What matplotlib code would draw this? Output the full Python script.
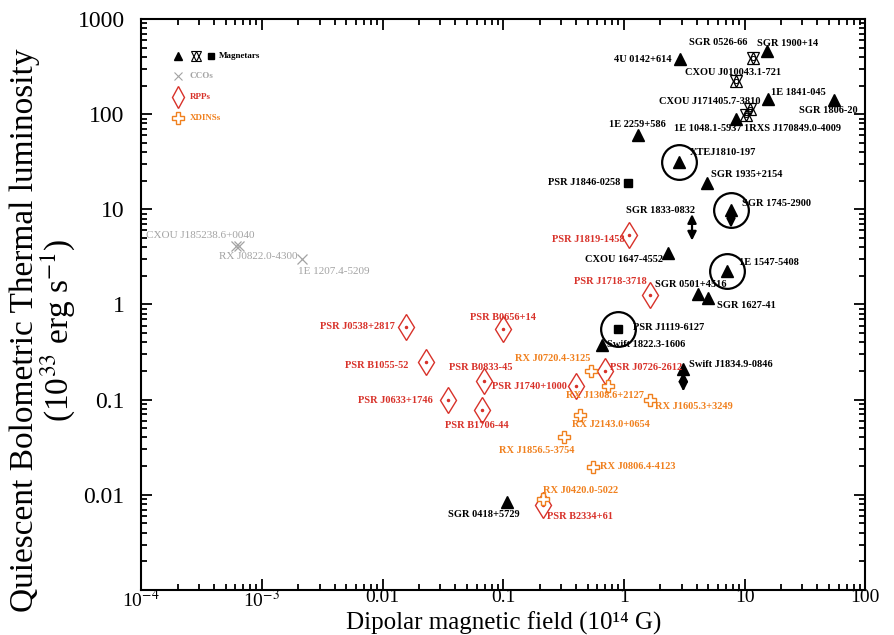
import matplotlib
matplotlib.use('Agg')
import matplotlib.pyplot as plt
from matplotlib.ticker import FixedLocator, LogLocator, NullFormatter

plt.rcParams['font.family'] = ['Liberation Serif', 'DejaVu Serif']
plt.rcParams['mathtext.fontset'] = 'stix'

# Magnetars: B in 1e14 G, thermal luminosity in 1e33 erg/s
mag_tri_names = ['4U 0142+614', 'SGR 1900+14', '1E 1841-045', 'SGR 1806-20', '1E 1048.1-5937',
                 '1E 2259+586', 'XTEJ1810-197', 'SGR 1935+2154', 'SGR 1745-2900', 'CXOU 1647-4552',
                 '1E 1547-5408', 'SGR 0501+4516', 'SGR 1627-41', 'Swift 1822.3-1606',
                 'Swift J1834.9-0846', 'SGR 0418+5729']
mag_tri_B = [2.9, 15.3, 15.6, 55, 8.5, 1.31, 2.86, 4.9, 7.7, 2.3, 7.1, 4.1, 5.0, 0.66, 3.1, 0.107]
mag_tri_L = [380, 460, 144, 142, 89, 61, 31.5, 19, 9.9, 3.5, 2.25, 1.29, 1.17, 0.377, 0.21, 0.0083]

mag_star_names = ['SGR 0526-66', 'CXOU J010043.1-721', 'CXOU J171405.7-3810', '1RXS J170849.0-4009']
mag_star_B = [11.7, 8.5, 11.1, 10.2]
mag_star_L = [390, 223, 113, 98]

mag_sq_names = ['PSR J1846-0258', 'PSR J1119-6127']
mag_sq_B = [1.08, 0.89]
mag_sq_L = [19, 0.555]

# sources drawn with a ring around them
ringed = ['XTEJ1810-197', 'SGR 1745-2900', '1E 1547-5408', 'PSR J1119-6127']

# vertical arrows: (B, from L, to L)
arrow_names = ['SGR 1833-0832', 'SGR 1745-2900', 'Swift J1834.9-0846']
arrow_B = [3.66, 7.7, 3.1]
arrow_hi = [8.9, 9.9, 0.195]
arrow_lo = [4.7, 6.4, 0.122]
arrow_both = [True, False, True]

cco_names = ['CXOU J185238.6+0040', 'RX J0822.0-4300', '1E 1207.4-5209']
cco_B = [6.1e-4, 6.5e-4, 2.15e-3]
cco_L = [4.1, 4.1, 3.0]

rpp_names = ['PSR J1819-1458', 'PSR J1718-3718', 'PSR J0538+2817', 'PSR B0656+14', 'PSR B1055-52',
             'PSR B0833-45', 'PSR J1740+1000', 'PSR J0633+1746', 'PSR B1706-44', 'PSR J0726-2612',
             'PSR B2334+61']
rpp_B = [1.1, 1.64, 0.0156, 0.099, 0.0228, 0.0696, 0.398, 0.0346, 0.066, 0.70, 0.212]
rpp_L = [5.4, 1.26, 0.58, 0.55, 0.248, 0.158, 0.139, 0.0995, 0.078, 0.2, 0.00785]

xdins_names = ['RX J0720.4-3125', 'RX J1308.6+2127', 'RX J1605.3+3249', 'RX J2143.0+0654',
               'RX J1856.5-3754', 'RX J0806.4-4123', 'RX J0420.0-5022']
xdins_B = [0.533, 0.74, 1.64, 0.43, 0.318, 0.55, 0.214]
xdins_L = [0.2, 0.14, 0.1, 0.069, 0.040, 0.0198, 0.009]

x_ticks = [1e-4, 1e-3, 1e-2, 1e-1, 1, 10, 100]
x_ticklabels = ['10$^{-4}$', '10$^{-3}$', '0.01', '0.1', '1', '10', '100']
y_ticks = [1e-2, 1e-1, 1, 10, 100, 1000]
y_ticklabels = ['0.01', '0.1', '1', '10', '100', '1000']

# label placement: offset in pixels (dx, dy up) from the marker and alignment
label_pos = {
    '4U 0142+614': (-8, 0, 'right'), 'SGR 1900+14': (-10, 8, 'left'),
    'SGR 0526-66': (-6, 15, 'right'), 'CXOU J010043.1-721': (-3, 9, 'center'),
    '1E 1841-045': (3, 7, 'left'), 'SGR 1806-20': (-6, -11, 'center'),
    'CXOU J171405.7-3810': (10, 8, 'right'), '1RXS J170849.0-4009': (-2, -13, 'left'),
    '1E 1048.1-5937': (5, -9, 'right'), '1E 2259+586': (-1, 10, 'center'),
    'XTEJ1810-197': (11, 9, 'left'), 'PSR J1846-0258': (-8, 0, 'right'),
    'SGR 1935+2154': (4, 8, 'left'), 'SGR 1745-2900': (11, 6, 'left'),
    'SGR 1833-0832': (3, 4, 'right'), 'CXOU 1647-4552': (-5, -7, 'right'),
    '1E 1547-5408': (12, 8, 'left'), 'SGR 0501+4516': (-7, 9, 'center'),
    'SGR 1627-41': (9, -8, 'left'), 'PSR J1119-6127': (15, 1, 'left'),
    'Swift 1822.3-1606': (5, 0, 'left'), 'Swift J1834.9-0846': (6, 4, 'left'),
    'SGR 0418+5729': (-23, -12, 'center'),
    'PSR J1819-1458': (-4, -5, 'right'), 'PSR J1718-3718': (-3, 13, 'right'),
    'PSR J0538+2817': (-11, 0, 'right'), 'PSR B0656+14': (0, 12, 'center'),
    'PSR B1055-52': (-17, -3, 'right'), 'PSR B0833-45': (-4, 13, 'center'),
    'PSR J1740+1000': (-9, 0, 'right'), 'PSR J0633+1746': (-15, -1, 'right'),
    'PSR B1706-44': (-5, -16, 'center'), 'PSR J0726-2612': (5, 3, 'left'),
    'PSR B2334+61': (4, -12, 'left'),
    'RX J0720.4-3125': (-1, 12, 'right'), 'RX J1308.6+2127': (-3, -10, 'center'),
    'RX J1605.3+3249': (5, -7, 'left'), 'RX J2143.0+0654': (-8, -10, 'left'),
    'RX J1856.5-3754': (-27, -13, 'center'), 'RX J0806.4-4123': (7, 0, 'left'),
    'RX J0420.0-5022': (0, 9, 'left'),
    'CXOU J185238.6+0040': (18, 11, 'right'), 'RX J0822.0-4300': (58, -10, 'right'),
    '1E 1207.4-5209': (-4, -12, 'left'),
}

C_MAG = 'black'
C_CCO = '#a3a3a3'
C_RPP = '#d8322a'
C_XDI = '#f0801e'

fig = plt.figure(figsize=(8.94, 6.35), dpi=100)
ax = fig.add_axes([0.158, 0.071, 0.810, 0.899])
ax.set_xscale('log')
ax.set_yscale('log')
ax.set_xlim(1e-4, 100)
ax.set_ylim(1e-3, 1000)

# rings behind the magnetar symbols
all_B = dict(zip(mag_tri_names + mag_sq_names, mag_tri_B + mag_sq_B))
all_L = dict(zip(mag_tri_names + mag_sq_names, mag_tri_L + mag_sq_L))
for n in ringed:
    ax.plot(all_B[n], all_L[n], 'o', ms=25, mfc='none', mec='black', mew=1.6)

ax.plot(mag_tri_B, mag_tri_L, '^', ms=8, color=C_MAG, ls='none')
ax.plot(mag_star_B, mag_star_L, '^', ms=9, mfc='none', mec=C_MAG, mew=0.9, ls='none')
ax.plot(mag_star_B, mag_star_L, 'v', ms=9, mfc='none', mec=C_MAG, mew=0.9, ls='none')
ax.plot(mag_star_B, mag_star_L, 'o', ms=3, mfc='none', mec=C_MAG, mew=0.7, ls='none')
ax.plot(mag_sq_B, mag_sq_L, 's', ms=6, color=C_MAG, ls='none')

for b, hi, lo, both in zip(arrow_B, arrow_hi, arrow_lo, arrow_both):
    style = '<|-|>' if both else '-|>'
    ax.annotate('', xy=(b, lo), xytext=(b, hi),
                arrowprops=dict(arrowstyle=style, color='black', lw=1.6,
                                mutation_scale=13, shrinkA=0, shrinkB=0))

ax.plot(cco_B, cco_L, 'x', ms=7, color=C_CCO, mew=0.9, ls='none')
ax.plot(rpp_B, rpp_L, 'd', ms=13, mfc='white', mec=C_RPP, mew=1.0, ls='none')
ax.plot(rpp_B, rpp_L, '.', ms=3, color=C_RPP, ls='none')
ax.plot(xdins_B, xdins_L, 'P', ms=9, mfc='white', mec=C_XDI, mew=1.0, ls='none')

groups = [
    (mag_tri_names, mag_tri_B, mag_tri_L, C_MAG, 'bold', 7.5),
    (mag_star_names, mag_star_B, mag_star_L, C_MAG, 'bold', 7.5),
    (mag_sq_names, mag_sq_B, mag_sq_L, C_MAG, 'bold', 7.5),
    (cco_names, cco_B, cco_L, C_CCO, 'normal', 8),
    (rpp_names, rpp_B, rpp_L, C_RPP, 'bold', 7.5),
    (xdins_names, xdins_B, xdins_L, C_XDI, 'bold', 7.5),
]
for names, bs, ls, col, wt, fs in groups:
    for n, b, l in zip(names, bs, ls):
        dx, dy, ha = label_pos[n]
        ax.annotate(n, (b, l), xytext=(dx * 0.72, dy * 0.72), textcoords='offset points',
                    ha=ha, va='center', fontsize=fs, color=col, fontweight=wt)

# SGR 1833-0832 has no marker; label it at the top of its arrow
dx, dy, ha = label_pos['SGR 1833-0832']
ax.annotate('SGR 1833-0832', (arrow_B[0], arrow_hi[0]), xytext=(dx * 0.72, dy * 0.72),
            textcoords='offset points', ha=ha, va='center', fontsize=7.5, fontweight='bold')

# key in the upper left corner
kx = 0.051
kw = dict(transform=ax.transAxes, clip_on=False, ls='none')
ax.plot(kx, 0.935, '^', ms=6, color=C_MAG, **kw)
ax.plot(kx + 0.025, 0.935, '^', ms=7, mfc='none', mec=C_MAG, mew=0.8, **kw)
ax.plot(kx + 0.025, 0.935, 'v', ms=7, mfc='none', mec=C_MAG, mew=0.8, **kw)
ax.plot(kx + 0.046, 0.935, 's', ms=4.5, color=C_MAG, **kw)
ax.plot(kx, 0.900, 'x', ms=6, color=C_CCO, mew=0.8, **kw)
ax.plot(kx, 0.863, 'd', ms=11, mfc='white', mec=C_RPP, mew=1.0, **kw)
ax.plot(kx, 0.826, 'P', ms=8, mfc='white', mec=C_XDI, mew=1.0, **kw)
tx = kx + 0.016
ax.text(tx + 0.04, 0.935, 'Magnetars', transform=ax.transAxes, va='center', fontsize=6.5,
        fontweight='bold', color=C_MAG)
ax.text(tx, 0.900, 'CCOs', transform=ax.transAxes, va='center', fontsize=6.5,
        fontweight='bold', color=C_CCO)
ax.text(tx, 0.863, 'RPPs', transform=ax.transAxes, va='center', fontsize=6.5,
        fontweight='bold', color=C_RPP)
ax.text(tx, 0.826, 'XDINSs', transform=ax.transAxes, va='center', fontsize=6.5,
        fontweight='bold', color=C_XDI)

ax.xaxis.set_major_locator(FixedLocator(x_ticks))
ax.set_xticklabels(x_ticklabels)
ax.yaxis.set_major_locator(FixedLocator(y_ticks))
ax.set_yticklabels(y_ticklabels)
for axis in (ax.xaxis, ax.yaxis):
    axis.set_minor_locator(LogLocator(base=10, subs=range(2, 10), numticks=20))
    axis.set_minor_formatter(NullFormatter())
ax.tick_params(which='both', direction='in', top=True, right=True, width=1.3)
ax.tick_params(which='major', length=8)
ax.tick_params(which='minor', length=4)
ax.tick_params(axis='x', which='major', labelsize=14, pad=-1)
ax.tick_params(axis='y', which='major', labelsize=17, pad=12)
for s in ax.spines.values():
    s.set_linewidth(1.5)

ax.set_xlabel('Dipolar magnetic field (10\u00b9\u2074 G)', fontsize=18, va='bottom')
ax.xaxis.set_label_coords(0.5, -0.0785)
ax.set_ylabel('Quiescent Bolometric Thermal luminosity\n(10$^{33}$ erg s$^{-1}$)',
              fontsize=24, linespacing=0.95)
ax.yaxis.set_label_coords(-0.089, 0.455)

fig.savefig('out.png', dpi=100)
